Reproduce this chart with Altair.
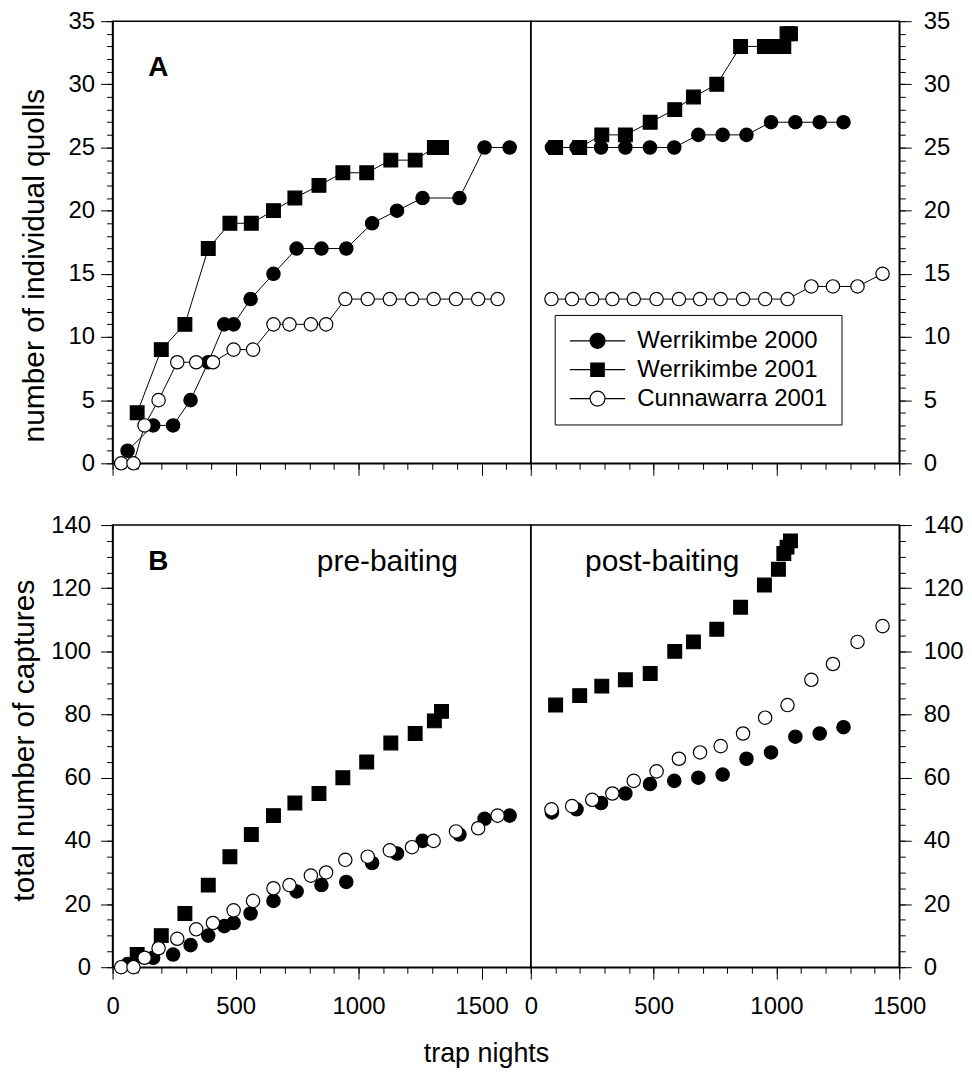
import altair as alt
import pandas as pd

FONT = "Liberation Sans"
SERIES = ["Werrikimbe 2000", "Werrikimbe 2001", "Cunnawarra 2001"]

# ---------------- pre-baiting (trap nights) ----------------
PRE_X_W00 = [61, 165, 246, 317, 389, 454, 492, 561, 654, 748, 849, 950, 1055, 1156, 1260, 1410, 1512, 1614]
PRE_A_W00 = [1, 3, 3, 5, 8, 11, 11, 13, 15, 17, 17, 17, 19, 20, 21, 21, 25, 25]
PRE_B_W00 = [1, 3, 4, 7, 10, 13, 14, 17, 21, 24, 26, 27, 33, 36, 40, 42, 47, 48]

PRE_X_W01 = [100, 198, 294, 389, 477, 564, 654, 741, 839, 936, 1033, 1131, 1230, 1308, 1337]
PRE_A_W01 = [4, 9, 11, 17, 19, 19, 20, 21, 22, 23, 23, 24, 24, 25, 25]
PRE_B_W01 = [4, 10, 17, 26, 35, 42, 48, 52, 55, 60, 65, 71, 74, 78, 81]

PRE_X_C01 = [35, 85, 130, 187, 263, 340, 408, 492, 571, 654, 719, 806, 868, 946, 1037, 1127, 1217, 1305, 1396, 1486, 1565]
PRE_A_C01 = [0, 0, 3, 5, 8, 8, 8, 9, 9, 11, 11, 11, 11, 13, 13, 13, 13, 13, 13, 13, 13]
PRE_B_C01 = [0, 0, 3, 6, 9, 12, 14, 18, 21, 25, 26, 29, 30, 34, 35, 37, 38, 40, 43, 44, 48]

# ---------------- post-baiting (trap nights) ----------------
POST_X_W00 = [86, 186, 286, 385, 485, 584, 682, 781, 878, 978, 1077, 1176, 1273]
POST_A_W00 = [25, 25, 25, 25, 25, 25, 26, 26, 26, 27, 27, 27, 27]
POST_B_W00 = [49, 50, 52, 55, 58, 59, 60, 61, 66, 68, 73, 74, 76]

POST_X_W01 = [101, 199, 289, 385, 486, 586, 662, 757, 854, 951, 1008, 1030, 1043, 1057]
POST_A_W01 = [25, 25, 26, 26, 27, 28, 29, 30, 33, 33, 33, 33, 34, 34]
POST_B_W01 = [83, 86, 89, 91, 93, 100, 103, 107, 114, 121, 126, 131, 133, 135]

POST_X_C01 = [84, 168, 250, 332, 419, 512, 603, 689, 773, 864, 954, 1045, 1142, 1230, 1330, 1432]
POST_A_C01 = [13, 13, 13, 13, 13, 13, 13, 13, 13, 13, 13, 13, 14, 14, 14, 15]
POST_B_C01 = [50, 51, 53, 55, 59, 62, 66, 68, 70, 74, 79, 83, 91, 96, 103, 108]

X_MAJOR = [0, 500, 1000, 1500]
A_Y_MAJOR = [0, 5, 10, 15, 20, 25, 30, 35]
B_Y_MAJOR = [0, 20, 40, 60, 80, 100, 120, 140]


def long_df(parts):
    rows = []
    for s, xs, ys in parts:
        for x, y in zip(xs, ys):
            rows.append({"x": x, "y": y, "s": s})
    return pd.DataFrame(rows)


# legend symbols: a line through a marker (unit coords, scaled by sqrt(size)/2)
P_CIRCLE = "M-3.7,0H-1M1,0H3.7M-1,0A1,1 0 1,0 1,0A1,1 0 1,0 -1,0Z"
P_SQUARE = "M-3.7,0H-0.9M0.9,0H3.7M-0.9,-0.9H0.9V0.9H-0.9Z"

FILL_SCALE = alt.Scale(domain=SERIES, range=["black", "black", "white"])
SHAPE_SCALE = alt.Scale(domain=SERIES, range=[P_CIRCLE, P_SQUARE, P_CIRCLE])

LEG = alt.Legend(
    title=None, orient="none", legendX=444, legendY=295, direction="vertical",
    labelFont=FONT, labelFontSize=24, labelColor="black", labelLimit=400,
    symbolSize=225, symbolStrokeColor="black", symbolStrokeWidth=1.2,
    symbolOffset=17, labelOffset=28, padding=14, rowPadding=5,
    strokeColor="black", fillColor="white",
)

AX_COMMON = dict(grid=False, domainColor="black", domainWidth=1.5, tickColor="black",
                 tickWidth=1, labelColor="black", labelFont=FONT, labelFontSize=24,
                 titleFont=FONT, titleColor="black", titleFontWeight="normal")


def cell(df, xdom, ydom, ymaj, ystep, side, xlabels, ytitle, tpad, ty, lpad, lines, texts, dummy, w, h):
    xs = alt.Scale(domain=xdom, nice=False, zero=False)
    ys = alt.Scale(domain=ydom, nice=False, zero=False)
    ax_x = alt.Axis(orient="bottom", values=X_MAJOR, tickSize=12, labels=xlabels, format="d",
                    labelFlush=False, labelOverlap=False, labelPadding=15, title=None, **AX_COMMON)
    ykw = dict(orient=side, values=ymaj, tickSize=12, labelOverlap=False, format="d",
               labelPadding=lpad, **AX_COMMON)
    if ytitle:
        ax_y = alt.Axis(title=ytitle, titleFontSize=30, titlePadding=tpad, titleY=ty, **ykw)
    else:
        ax_y = alt.Axis(title=None, **ykw)
    X = alt.X("x:Q", scale=xs, axis=ax_x)
    Y = alt.Y("y:Q", scale=ys, axis=ax_y)
    base = alt.Chart(df)
    layers = []
    if lines:
        layers.append(base.mark_line(color="black", strokeWidth=1).encode(X, Y, detail="s:N"))
    for s, shape, size in [(SERIES[1], "square", 190), (SERIES[0], "circle", 180), (SERIES[2], "circle", 180)]:
        layers.append(
            base.transform_filter(alt.datum.s == s)
            .mark_point(shape=shape, filled=True, size=size, stroke="black", strokeWidth=1.2, opacity=1)
            .encode(X, Y, fill=alt.Fill("s:N", scale=FILL_SCALE, legend=LEG))
        )
    if dummy:
        layers.append(
            base.transform_filter("datum.y < -1000")
            .mark_point(filled=True, stroke="black", strokeWidth=1.2, opacity=1)
            .encode(X, Y, fill=alt.Fill("s:N", scale=FILL_SCALE, legend=LEG),
                    shape=alt.Shape("s:N", scale=SHAPE_SCALE, legend=LEG))
        )
    for t, px, py, fs, fw in texts:
        layers.append(
            alt.Chart(pd.DataFrame({"t": [t]}))
            .mark_text(font=FONT, fontSize=fs, fontWeight=fw, color="black", align="center", baseline="middle")
            .encode(x=alt.value(px), y=alt.value(py), text="t:N")
        )
    main = alt.layer(*layers)
    mx = alt.Axis(orient="bottom", values=list(range(0, int(xdom[1]) + 1, 100)), tickSize=6,
                  labels=False, domain=False, title=None, grid=False, tickColor="black", tickWidth=1)
    my = alt.Axis(orient=side, values=list(range(0, int(ydom[1]) + 1, ystep)), tickSize=6,
                  labels=False, domain=False, title=None, grid=False, tickColor="black", tickWidth=1)
    minor = base.mark_point(opacity=0).encode(
        alt.X("x:Q", scale=xs, axis=mx), alt.Y("y:Q", scale=ys, axis=my))
    return alt.layer(main, minor).resolve_scale(x="independent", y="independent").properties(width=w, height=h)


A_pre = long_df([(SERIES[0], PRE_X_W00, PRE_A_W00), (SERIES[1], PRE_X_W01, PRE_A_W01), (SERIES[2], PRE_X_C01, PRE_A_C01)])
A_post = long_df([(SERIES[0], POST_X_W00, POST_A_W00), (SERIES[1], POST_X_W01, POST_A_W01), (SERIES[2], POST_X_C01, POST_A_C01)])
B_pre = long_df([(SERIES[0], PRE_X_W00, PRE_B_W00), (SERIES[1], PRE_X_W01, PRE_B_W01), (SERIES[2], PRE_X_C01, PRE_B_C01)])
B_post = long_df([(SERIES[0], POST_X_W00, POST_B_W00), (SERIES[1], POST_X_W01, POST_B_W01), (SERIES[2], POST_X_C01, POST_B_C01)])

WL, WR, H = 420, 370, 444

a_left = cell(A_pre, [0, 1700], [0, 35], A_Y_MAJOR, 1, "left", False, "number of individual quolls", 19, 245, 6, True,
              [("A", 46, 47, 28, "bold")], False, WL, H)
a_right = cell(A_post, [0, 1500], [0, 35], A_Y_MAJOR, 1, "right", False, None, 0, 0, 12, True, [], True, WR, H)
b_left = cell(B_pre, [0, 1700], [0, 140], B_Y_MAJOR, 5, "left", True, "total number of captures", 11, 216, 10, False,
              [("B", 46, 37, 28, "bold"), ("pre-baiting", 276, 37, 30, "normal")], False, WL, H)
b_right = cell(B_post, [0, 1500], [0, 140], B_Y_MAJOR, 5, "right", True, None, 0, 0, 12, False,
               [("post-baiting", 132, 37, 30, "normal")], False, WR, H)

top = alt.hconcat(a_left, a_right, spacing=0, bounds="flush")
bottom = alt.hconcat(b_left, b_right, spacing=0, bounds="flush").properties(
    title=alt.TitleParams(text="trap nights", orient="bottom", anchor="middle", font=FONT,
                          fontSize=27, fontWeight="normal", color="black", offset=22))

chart = (
    alt.vconcat(top, bottom, spacing=35)
    .properties(padding={"left": 1, "right": 0, "top": -2, "bottom": 0})
    .configure(font=FONT)
    .configure_view(stroke="black", strokeWidth=1.5)
)

chart.save("out.html", embed_options={"renderer": "svg", "actions": False})
